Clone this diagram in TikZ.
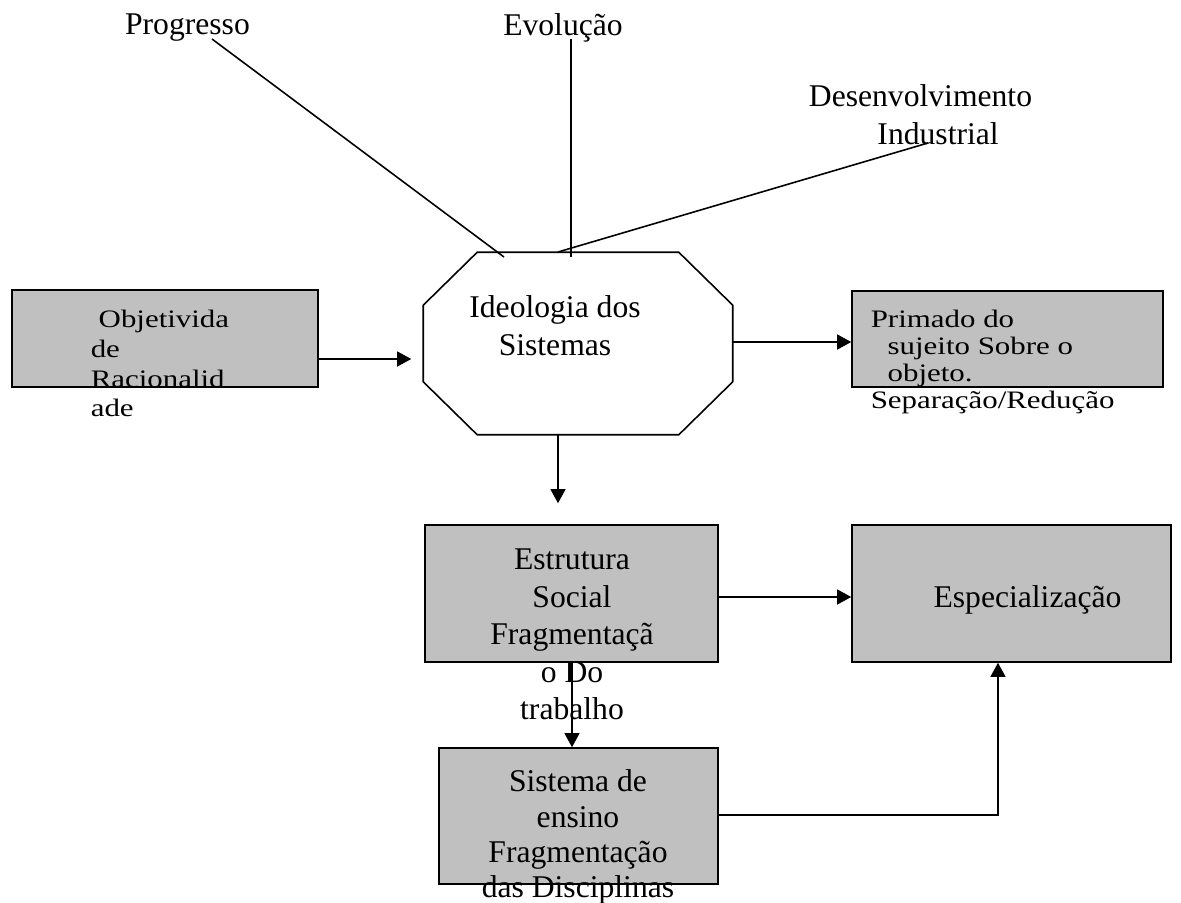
\documentclass[tikz,border=0pt]{standalone}
\usepackage{fontspec}
\setmainfont{Liberation Serif}
\newfontfamily\boxfont[FakeStretch=1.23]{Liberation Serif}
\usetikzlibrary{arrows.meta}
\definecolor{boxgray}{RGB}{192,192,192}

\begin{document}
\begin{tikzpicture}[x=0.02cm, y=-0.02cm, line width=0.9pt,
  >={Triangle[length=8pt,width=8.5pt]},
  box/.style={draw, fill=boxgray, inner sep=0pt},
  txt/.style={inner sep=0pt, font=\fontsize{18}{21.3}\selectfont},
  small/.style={inner sep=0pt, align=left}]
  \useasboundingbox (0,0) rectangle (1181,903);

  % boxes
  \node[box, minimum width=6.12cm, minimum height=1.94cm] (obj) at (165,338.5) {};
  \node[box, minimum width=6.22cm, minimum height=1.92cm] (prim) at (1007.5,339) {};
  \node[box, minimum width=5.86cm, minimum height=2.74cm] (estr) at (571.5,593.5) {};
  \node[box, minimum width=6.38cm, minimum height=2.74cm] (espec) at (1011.5,593.5) {};
  \node[box, minimum width=5.58cm, minimum height=2.72cm] (sist) at (578.5,816) {};

  % octagon
  \node[inner sep=0pt, minimum width=6.16cm, minimum height=3.62cm] (ideo) at (578,343.5) {};
  \draw ([xshift=1.08cm]ideo.north west) -- ([xshift=-1.08cm]ideo.north east)
    -- ([yshift=-1.06cm]ideo.north east) -- ([yshift=1.06cm]ideo.south east)
    -- ([xshift=-1.08cm]ideo.south east) -- ([xshift=1.08cm]ideo.south west)
    -- ([yshift=1.06cm]ideo.south west) -- ([yshift=-1.06cm]ideo.north west) -- cycle;

  % texts
  \node[txt] (prog) at (187.5,28) {Progresso};
  \node[txt] (evol) at (563,27.7) {Evolução};
  \node[txt, align=left] (desenv) at (920.5,114.6) {Desenvolvimento\\\hspace*{39pt}Industrial};
  \node[txt, align=center] (ideotxt) at (555,325.6) {Ideologia dos\\Sistemas};
  \node[small, anchor=west, font=\boxfont\fontsize{14.3}{17}\selectfont] (objtxt) at (90,363.5)
    {\hspace*{4.5pt}Objetivida\\de\\Racionalid\\ade};
  \node[small, anchor=west, font=\boxfont\fontsize{14.3}{15.5}\selectfont] (primtxt) at (870,362)
    {Primado do\\\hspace*{9.6pt}sujeito Sobre o\\\hspace*{9.6pt}objeto.\\Separação/Redução};
  \node[txt, align=center] (estrtxt) at (572,634.5) {Estrutura\\Social\\Fragmentaçã\\o Do\\trabalho};
  \node[txt] (spectxt) at (1027.5,599.6) {Especialização};
  \node[txt, align=center, font=\fontsize{18}{20}\selectfont] (sisttxt) at (578,837)
    {Sistema de\\ensino\\Fragmentação\\das Disciplinas};

  % lines to the octagon
  \coordinate (progfoot) at (212,39);
  \coordinate (progtip) at (504,257);
  \coordinate (evolfoot) at (571,39);
  \coordinate (evoltip) at (571,257);
  \coordinate (desfoot) at (928,143);
  \coordinate (destip) at (558,252);
  \draw (progfoot) -- (progtip);
  \draw (evolfoot) -- (evoltip);
  \draw (desfoot) -- (destip);

  % arrows
  \coordinate (row1) at (0,359);
  \coordinate (row2) at (0,342);
  \coordinate (row3) at (0,597);
  \coordinate (col1) at (558,0);
  \coordinate (col2) at (572,0);
  \coordinate (bend) at (998,815);
  \draw[->, shorten >=0.24cm] (obj.east |- row1) -- (ideo.west |- row1);
  \draw[->] (ideo.east |- row2) -- (prim.west |- row2);
  \draw[->, shorten >=0.42cm] (ideo.south -| col1) -- (estr.north -| col1);
  \draw[->] (estr.east |- row3) -- (espec.west |- row3);
  \draw[->] (estr.south -| col2) -- (sist.north -| col2);
  \draw[->] (sist.east |- bend) -| (espec.south -| bend);
\end{tikzpicture}
\end{document}
